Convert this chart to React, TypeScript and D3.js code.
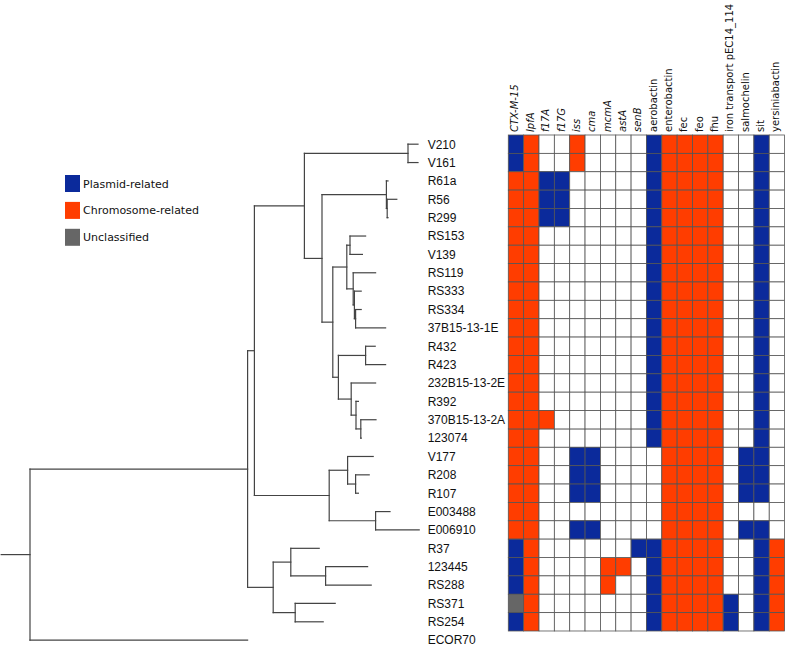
import React from 'react';
import * as d3 from 'd3';

// gene columns, first nine are gene names (italic)
const genes = ['CTX-M-15', 'lpfA', 'f17A', 'f17G', 'iss', 'cma', 'mcmA', 'astA', 'senB',
  'aerobactin', 'enterobactin', 'fec', 'feo', 'fhu', 'iron transport pEC14_114', 'salmochelin', 'sit', 'yersiniabactin'];
const italicGenes = ['CTX-M-15', 'lpfA', 'f17A', 'f17G', 'iss', 'cma', 'mcmA', 'astA', 'senB'];

// P = plasmid-related, C = chromosome-related, U = unclassified, . = absent
const profiles = {
  V210: 'PC..C....PCCCC..P.',
  V161: 'PC..C....PCCCC..P.',
  R61a: 'CCPP.....PCCCC..P.',
  R56: 'CCPP.....PCCCC..P.',
  R299: 'CCPP.....PCCCC..P.',
  RS153: 'CC.......PCCCC..P.',
  V139: 'CC.......PCCCC..P.',
  RS119: 'CC.......PCCCC..P.',
  RS333: 'CC.......PCCCC..P.',
  RS334: 'CC.......PCCCC..P.',
  '37B15-13-1E': 'CC.......PCCCC..P.',
  R432: 'CC.......PCCCC..P.',
  R423: 'CC.......PCCCC..P.',
  '232B15-13-2E': 'CC.......PCCCC..P.',
  R392: 'CC.......PCCCC..P.',
  '370B15-13-2A': 'CCC......PCCCC..P.',
  '123074': 'CC.......PCCCC..P.',
  V177: 'CC..PP....CCCC.PP.',
  R208: 'CC..PP....CCCC.PP.',
  R107: 'CC..PP....CCCC.PP.',
  E003488: 'CC........CCCC....',
  E006910: 'CC..PP....CCCC.PP.',
  R37: 'PC......PPCCCC..PC',
  '123445': 'PC....CC.PCCCC..PC',
  RS288: 'PC....C..PCCCC..PC',
  RS371: 'UC.......PCCCCP.PC',
  RS254: 'PC.......PCCCCP.PC',
};

const legendItems = [
  { key: 'P', label: 'Plasmid-related' },
  { key: 'C', label: 'Chromosome-related' },
  { key: 'U', label: 'Unclassified' },
];
const colors = { P: '#0b2a9b', C: '#ff3d00', U: '#666666', '.': '#ffffff' };

type T = { h: number; name?: string; children?: T[] };
const n = (h: number, ...children: T[]): T => ({ h, children });
const l = (name: string, h: number): T => ({ h, name });

// node heights measured from the root
const tree = n(0,
  n(54.4,
    n(56.1,
      n(68.6,
        n(94.5, l('V210', 97), l('V161', 97)),
        n(73,
          n(89.1, l('R61a', 89.5), n(89.3, l('R56', 91.7), l('R299', 89.5))),
          n(75.7,
            n(79.2,
              n(80, l('RS153', 83.9), l('V139', 83.1)),
              n(80.8, l('RS119', 86.4), n(81.1, l('RS333', 82.8), n(81.4, l('RS334', 82.8), l('37B15-13-1E', 88.9))))),
            n(77.1,
              n(83.9, l('R432', 86.3), l('R423', 88.9)),
              n(80.3, l('232B15-13-2E', 86.4), n(81.5, l('R392', 82.1), n(82.7, l('370B15-13-2A', 86.5), l('123074', 82.8)))))))),
      n(74.8,
        n(79.4, l('V177', 85.8), n(81.4, l('R208', 84.8), l('R107', 82.1))),
        n(86.4, l('E003488', 90), l('E006910', 97.3)))),
    n(60.8,
      n(65.2, l('R37', 72.3), n(73.9, l('123445', 84.4), l('RS288', 85.3))),
      n(66.3, l('RS371', 76.3), l('RS254', 73.3)))),
  l('ECOR70', 54.4));

const rootStub = 7.2;

const W = 787;
const H = 648;

export default function App() {
  const root = d3.hierarchy<T>(tree);
  const leaves = root.leaves();
  const names = leaves.map((d) => d.data.name as string);
  const rowH = 18.37;
  const y = d3.scaleBand().domain(names).range([135, 135 + names.length * rowH]);
  const x = d3.scaleLinear().domain([0, 100]).range([30, 430]);
  const col = d3.scaleBand().domain(genes).range([508.3, 784.6]);

  const ys = new Map<any, number>();
  root.eachAfter((d) => {
    if (!d.children) ys.set(d, (y(d.data.name as string) as number) + y.bandwidth() / 2);
    else ys.set(d, (ys.get(d.children[0])! + ys.get(d.children[d.children.length - 1])!) / 2);
  });

  const segs: { x1: number; y1: number; x2: number; y2: number }[] = [];
  root.each((d) => {
    if (d.children) {
      const c0 = d.children[0];
      const c1 = d.children[d.children.length - 1];
      segs.push({ x1: x(d.data.h), y1: ys.get(c0)!, x2: x(d.data.h), y2: ys.get(c1)! });
      d.children.forEach((c) => segs.push({ x1: x(d.data.h), y1: ys.get(c)!, x2: x(c.data.h), y2: ys.get(c)! }));
    }
  });
  segs.push({ x1: x(-rootStub), y1: ys.get(root)!, x2: x(0), y2: ys.get(root)! });

  const rows = Object.keys(profiles);

  return (
    <div style={{ position: 'absolute', left: 0, top: 0 }}>
      <svg width={W} height={H} style={{ display: 'block', background: '#fff' }}>
        {legendItems.map((it, i) => (
          <g key={it.key} transform={`translate(65,${175 + i * 26.9})`}>
            <rect width={15} height={17} fill={(colors as any)[it.key]} />
            <text x={18} y={12.5} fontFamily="DejaVu Sans" fontSize={11} fill="#111">{it.label}</text>
          </g>
        ))}

        <g stroke="#444" strokeWidth={1.2} fill="none">
          {segs.map((s, i) => (
            <line key={i} x1={s.x1} y1={s.y1} x2={s.x2} y2={s.y2} strokeLinecap="square" />
          ))}
        </g>

        {names.map((nm) => (
          <text key={nm} x={427.7} y={(y(nm) as number) + y.bandwidth() / 2} dy="0.36em"
            fontFamily="Liberation Sans, Arial, sans-serif" fontSize={12} fill="#111">{nm}</text>
        ))}

        {rows.map((r) =>
          genes.map((g, j) => (
            <rect key={r + g} x={col(g)} y={y(r)} width={col.bandwidth()} height={y.bandwidth()}
              fill={(colors as any)[(profiles as any)[r][j]]} stroke="#555" strokeWidth={0.8} />
          ))
        )}

        {genes.map((g) => {
          const cx = (col(g) as number) + col.bandwidth() / 2;
          return (
            <text key={g} transform={`translate(${cx},132) rotate(-90)`} dy="0.25em"
              fontFamily="DejaVu Sans" fontSize={10} fill="#111"
              fontStyle={italicGenes.includes(g) ? 'italic' : 'normal'}>{g}</text>
          );
        })}
      </svg>
    </div>
  );
}
